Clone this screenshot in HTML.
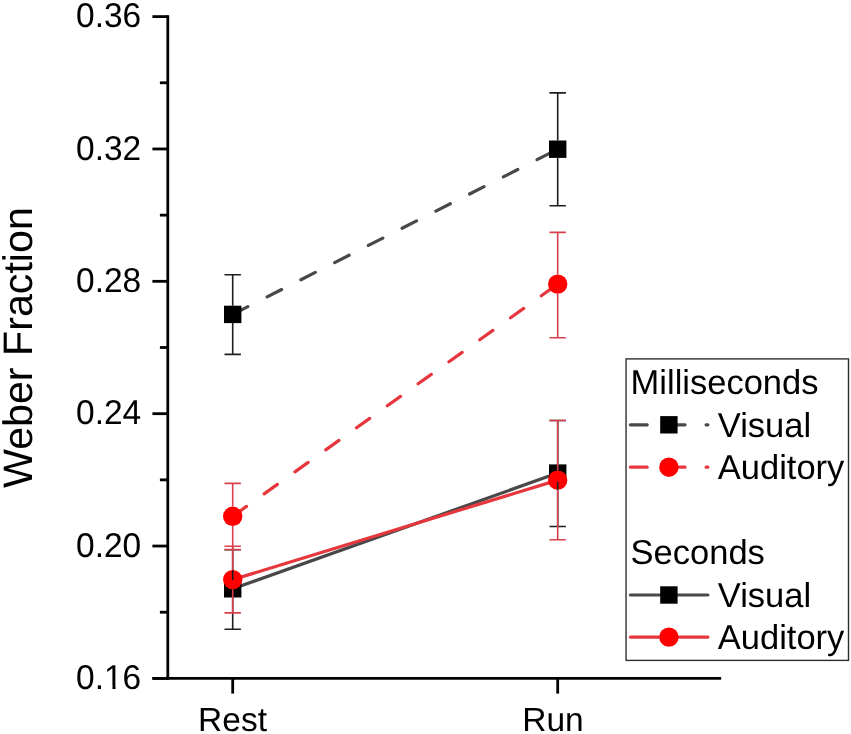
<!DOCTYPE html><html><head><meta charset="utf-8"><style>html,body{margin:0;padding:0;background:#fff;}svg{display:block;}text{font-family:"Liberation Sans",Arial,sans-serif;fill:#000;text-rendering:geometricPrecision;}</style></head><body>
<svg width="851" height="734" viewBox="0 0 851 734">
<rect width="851" height="734" fill="#fff"/>
<line x1="167.8" y1="15.20" x2="167.8" y2="679.80" stroke="#000" stroke-width="2.8"/>
<line x1="152.4" y1="678.4" x2="721.2" y2="678.4" stroke="#000" stroke-width="2.8"/>
<line x1="152.4" y1="678.40" x2="167.8" y2="678.40" stroke="#000" stroke-width="2.8"/>
<line x1="159.9" y1="612.22" x2="167.8" y2="612.22" stroke="#000" stroke-width="2.8"/>
<text transform="translate(141.2,689.00) scale(1,1.03)" font-size="33.5" text-anchor="end">0.16</text>
<line x1="152.4" y1="546.04" x2="167.8" y2="546.04" stroke="#000" stroke-width="2.8"/>
<line x1="159.9" y1="479.86" x2="167.8" y2="479.86" stroke="#000" stroke-width="2.8"/>
<text transform="translate(141.2,556.64) scale(1,1.03)" font-size="33.5" text-anchor="end">0.20</text>
<line x1="152.4" y1="413.68" x2="167.8" y2="413.68" stroke="#000" stroke-width="2.8"/>
<line x1="159.9" y1="347.50" x2="167.8" y2="347.50" stroke="#000" stroke-width="2.8"/>
<text transform="translate(141.2,424.28) scale(1,1.03)" font-size="33.5" text-anchor="end">0.24</text>
<line x1="152.4" y1="281.32" x2="167.8" y2="281.32" stroke="#000" stroke-width="2.8"/>
<line x1="159.9" y1="215.14" x2="167.8" y2="215.14" stroke="#000" stroke-width="2.8"/>
<text transform="translate(141.2,291.92) scale(1,1.03)" font-size="33.5" text-anchor="end">0.28</text>
<line x1="152.4" y1="148.96" x2="167.8" y2="148.96" stroke="#000" stroke-width="2.8"/>
<line x1="159.9" y1="82.78" x2="167.8" y2="82.78" stroke="#000" stroke-width="2.8"/>
<text transform="translate(141.2,159.56) scale(1,1.03)" font-size="33.5" text-anchor="end">0.32</text>
<line x1="152.4" y1="16.60" x2="167.8" y2="16.60" stroke="#000" stroke-width="2.8"/>
<text transform="translate(141.2,27.20) scale(1,1.03)" font-size="33.5" text-anchor="end">0.36</text>
<line x1="232.7" y1="678.4" x2="232.7" y2="693.6" stroke="#000" stroke-width="2.8"/>
<line x1="557.7" y1="678.4" x2="557.7" y2="693.6" stroke="#000" stroke-width="2.8"/>
<text transform="translate(198.1,731.1) scale(1,1.0)" font-size="33.5">Rest</text>
<text transform="translate(522.3,731.1) scale(1,1.0)" font-size="33.5">Run</text>
<text transform="translate(32.0,488.0) rotate(-90) scale(1,1.0)" font-size="41.2">Weber Fraction</text>
<line x1="232.7" y1="314.4" x2="557.7" y2="149.2" stroke="#484848" stroke-width="3.2" stroke-linecap="round" stroke-dasharray="16.2 21.65" stroke-dashoffset="-0.8"/>
<line x1="232.7" y1="516.3" x2="557.7" y2="284.1" stroke="#e6373e" stroke-width="3.2" stroke-linecap="round" stroke-dasharray="16.2 21.65" stroke-dashoffset="-0.8"/>
<line x1="232.7" y1="588.8" x2="557.7" y2="473.1" stroke="#484848" stroke-width="3.2" stroke-linecap="round"/>
<line x1="232.7" y1="579.6" x2="557.7" y2="480.1" stroke="#e6373e" stroke-width="3.2" stroke-linecap="round"/>
<rect x="224.00" y="305.70" width="17.4" height="17.4" fill="#000"/>
<rect x="549.00" y="140.50" width="17.4" height="17.4" fill="#000"/>
<circle cx="232.7" cy="516.3" r="9.7" fill="#ff0000"/>
<circle cx="557.7" cy="284.1" r="9.7" fill="#ff0000"/>
<rect x="224.00" y="580.10" width="17.4" height="17.4" fill="#000"/>
<rect x="549.00" y="464.40" width="17.4" height="17.4" fill="#000"/>
<circle cx="232.7" cy="579.6" r="9.7" fill="#ff0000"/>
<circle cx="557.7" cy="480.1" r="9.7" fill="#ff0000"/>
<path d="M232.7 305.70V274.8M224.50 274.8H240.90M232.7 323.10V354.4M224.50 354.4H240.90" stroke="#1e1e1e" stroke-width="1.6" fill="none"/>
<path d="M557.7 140.50V92.9M549.50 92.9H565.90M557.7 157.90V205.7M549.50 205.7H565.90" stroke="#1e1e1e" stroke-width="1.6" fill="none"/>
<path d="M232.7 580.10V549.8M224.50 549.8H240.90M232.7 597.50V629.3M224.50 629.3H240.90" stroke="#1e1e1e" stroke-width="1.6" fill="none"/>
<path d="M557.7 464.40V420.5M549.50 420.5H565.90M557.7 481.80V526.5M549.50 526.5H565.90" stroke="#1e1e1e" stroke-width="1.6" fill="none"/>
<path d="M232.7 506.60V483.4M224.50 483.4H240.90M232.7 526.00V549.5M224.50 549.5H240.90" stroke="#d9404c" stroke-width="1.6" fill="none"/>
<path d="M557.7 274.40V232.4M549.50 232.4H565.90M557.7 293.80V337.7M549.50 337.7H565.90" stroke="#d9404c" stroke-width="1.6" fill="none"/>
<path d="M232.7 569.90V546.3M224.50 546.3H240.90M232.7 589.30V612.9M224.50 612.9H240.90" stroke="#d9404c" stroke-width="1.6" fill="none"/>
<path d="M557.7 470.40V420.5M549.50 420.5H565.90M557.7 489.80V539.8M549.50 539.8H565.90" stroke="#d9404c" stroke-width="1.6" fill="none"/>
<rect x="626.05" y="358.9" width="222.45" height="301.5" fill="#fff" stroke="#2e2e2e" stroke-width="1.4"/>
<text transform="translate(630.6,393.90000000000003) scale(1,1.0)" font-size="34.5">Milliseconds</text>
<text transform="translate(630.6,563.6) scale(1,1.0)" font-size="34.5">Seconds</text>
<line x1="630.4" y1="424.8" x2="707.9" y2="424.8" stroke="#484848" stroke-width="3.2" stroke-linecap="round" stroke-dasharray="16.8 21.05"/>
<rect x="660.20" y="416.10" width="17.4" height="17.4" fill="#000"/>
<text transform="translate(717.8,436.6) scale(1,1.0)" font-size="34.5">Visual</text>
<line x1="630.4" y1="467.2" x2="707.9" y2="467.2" stroke="#e6373e" stroke-width="3.2" stroke-linecap="round" stroke-dasharray="16.8 21.05"/>
<circle cx="668.9" cy="467.2" r="9.7" fill="#ff0000"/>
<text transform="translate(717.8,479.20000000000005) scale(1,1.0)" font-size="34.5">Auditory</text>
<line x1="630.4" y1="595.0" x2="707.9" y2="595.0" stroke="#484848" stroke-width="3.2" stroke-linecap="round"/>
<rect x="660.20" y="586.30" width="17.4" height="17.4" fill="#000"/>
<text transform="translate(717.8,606.6) scale(1,1.0)" font-size="34.5">Visual</text>
<line x1="630.4" y1="637.1" x2="707.9" y2="637.1" stroke="#e6373e" stroke-width="3.2" stroke-linecap="round"/>
<circle cx="668.9" cy="637.1" r="9.7" fill="#ff0000"/>
<text transform="translate(717.8,649.2) scale(1,1.0)" font-size="34.5">Auditory</text>
<path d="M105.6 685.7H112.45V689H105.6ZM115.55 685.7H121.6V689H115.55Z" fill="#fff"/>
</svg></body></html>
